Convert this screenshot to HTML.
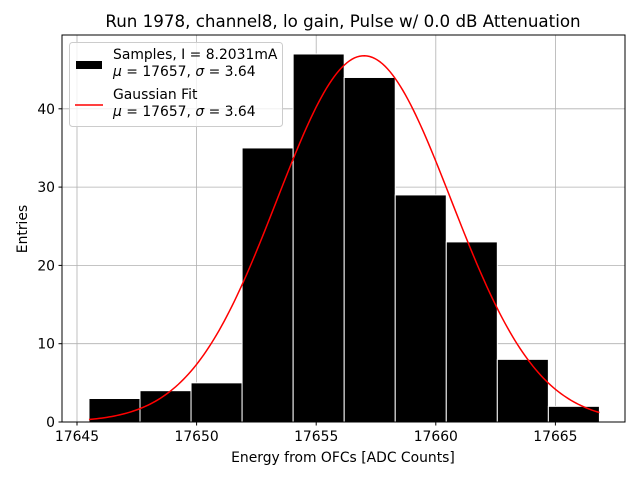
<!DOCTYPE html>
<html><head><meta charset="utf-8"><style>
body{margin:0;background:#fff;font-family:"DejaVu Sans","Liberation Sans",sans-serif;}
svg text{font-family:"DejaVu Sans","Liberation Sans",sans-serif;}
</style></head><body>
<svg id="chart" width="640" height="480" xmlns="http://www.w3.org/2000/svg">
<rect width="640" height="480" fill="#fff"/>
<text x="343" y="27" font-size="16.7" text-anchor="middle">Run 1978, channel8, lo gain, Pulse w/ 0.0 dB Attenuation</text>
<g id="grid"></g>
<g id="bars"></g>
<path id="fit" fill="none" stroke="#ff0000" stroke-width="1.5"/>
<rect x="62" y="35" width="563" height="387" fill="none" stroke="#000" stroke-width="1"/>
<g id="ticks"></g>
<text x="343" y="462" font-size="13.9" text-anchor="middle">Energy from OFCs [ADC Counts]</text>
<text x="0" y="0" font-size="13.9" text-anchor="middle" transform="translate(27,229) rotate(-90)">Entries</text>
<g>
<rect x="69.5" y="42.5" width="213" height="84" rx="3" fill="#fff" fill-opacity="0.8" stroke="#ccc"/>
<rect x="76" y="61" width="26" height="8" fill="#000"/>
<text x="113" y="59" font-size="13.9">Samples, I = 8.2031mA</text>
<text x="113" y="76" font-size="13.9"><tspan font-style="italic">μ</tspan> = 17657, <tspan font-style="italic">σ</tspan> = 3.64</text>
<line x1="75" y1="105" x2="103" y2="105" stroke="#ff0000" stroke-width="1.5"/>
<text x="113" y="99" font-size="13.9">Gaussian Fit</text>
<text x="113" y="116" font-size="13.9"><tspan font-style="italic">μ</tspan> = 17657, <tspan font-style="italic">σ</tspan> = 3.64</text>
</g>
</svg>
<script>
const binStart = 17645.5;
const binWidth = 2.134;
const counts = [3, 4, 5, 35, 47, 44, 29, 23, 8, 2];
const xTicks = [17645, 17650, 17655, 17660, 17665];
const yTicks = [0, 10, 20, 30, 40];
const fitMu = 17657;
const fitSigma = 3.64;

const NS = "http://www.w3.org/2000/svg";
const X = v => 77 + (v - 17645) * 23.92;
const Y = v => 422 - v * 7.83;
function mk(tag, attrs, parent) {
  const e = document.createElementNS(NS, tag);
  for (const k in attrs) e.setAttribute(k, attrs[k]);
  parent.appendChild(e);
  return e;
}
const grid = document.getElementById('grid');
const ticks = document.getElementById('ticks');
xTicks.forEach(t => {
  const g = mk('line', {x1: X(t), x2: X(t), y1: 35, y2: 422, stroke: '#b0b0b0', 'stroke-width': 0.8}, grid);
  
  
  const tk = mk('line', {x1: X(t), x2: X(t), y1: 422, y2: 425.5, stroke: '#000'}, ticks);
  
  
  const tx = mk('text', {x: X(t), y: 441, 'font-size': 13.9, 'text-anchor': 'middle'}, ticks);
  tx.textContent = t;
  
  
});
yTicks.forEach(t => {
  const g = mk('line', {x1: 62, x2: 625, y1: Y(t), y2: Y(t), stroke: '#b0b0b0', 'stroke-width': 0.8}, grid);
  
  
  const tk = mk('line', {x1: 58.5, x2: 62, y1: Y(t), y2: Y(t), stroke: '#000'}, ticks);
  
  
  const tx = mk('text', {x: 55, y: Y(t) + 5, 'font-size': 13.9, 'text-anchor': 'end'}, ticks);
  tx.textContent = t;
  
  
});
const bars = document.getElementById('bars');
counts.forEach((c, i) => {
  const x0 = X(binStart + i * binWidth), x1 = X(binStart + (i + 1) * binWidth);
  const r = mk('rect', {x: x0, y: Y(c), width: x1 - x0, height: Y(0) - Y(c), fill: '#000', stroke: '#fff', 'stroke-width': 1}, bars);
  
  
});
const total = counts.reduce((a, b) => a + b, 0);
const amp = total * binWidth / (fitSigma * Math.sqrt(2 * Math.PI));
const xEnd = binStart + counts.length * binWidth;
let d = '';
for (let k = 0; k <= 200; k++) {
  const v = binStart + (xEnd - binStart) * k / 200;
  const y = amp * Math.exp(-0.5 * ((v - fitMu) / fitSigma) ** 2);
  d += (k ? 'L' : 'M') + X(v).toFixed(2) + ',' + Y(y).toFixed(2);
}
document.getElementById('fit').setAttribute('d', d);
</script>
</body></html>
